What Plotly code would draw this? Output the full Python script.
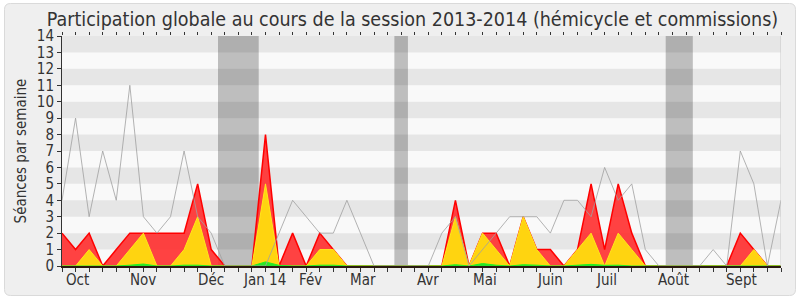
import plotly.graph_objects as go

weeks = list(range(54))
gray_total = [4, 9, 3, 7, 4, 11, 3, 2, 3, 7, 3, 2, 0, 0, 0, 0, 2, 4, 3, 2,
              2, 4, 2, 0, 0, 0, 0, 0, 2, 3, 0, 1, 2, 3, 3, 3, 2, 4, 4, 3,
              6, 4, 5, 1, 0, 0, 0, 0, 1, 0, 7, 5, 0, 4]
red_comm = [2, 1, 2, 0, 1, 2, 2, 2, 2, 2, 5, 1, 0, 0, 0, 8, 0, 2, 0, 2,
            1, 0, 0, 0, 0, 0, 0, 0, 0, 4, 0, 2, 2, 0, 3, 1, 1, 0, 1, 5,
            1, 5, 2, 0, 0, 0, 0, 0, 0, 0, 2, 1, 0, 0]
yellow_hemi = [0, 0, 1, 0, 0, 1, 2, 0, 0, 1, 3, 0, 0, 0, 0, 5, 0, 0, 0, 1,
               1, 0, 0, 0, 0, 0, 0, 0, 0, 3, 0, 2, 1, 0, 3, 1, 0, 0, 1, 2,
               0, 2, 1, 0, 0, 0, 0, 0, 0, 0, 0, 1, 0, 0]
green_int = [0, 0, 0, 0, 0, 0.05, 0.12, 0, 0, 0.05, 0.05, 0, 0, 0, 0, 0.25, 0.04, 0, 0, 0.05,
             0.05, 0, 0, 0, 0, 0, 0, 0, 0, 0.08, 0, 0.15, 0.05, 0, 0.08, 0.05, 0, 0, 0.03, 0.1,
             0.04, 0.05, 0, 0, 0, 0, 0, 0, 0, 0, 0, 0.04, 0, 0]
month_labels = ["Oct", "Nov", "Déc", "Jan 14", "Fév", "Mar", "Avr", "Mai", "Juin", "Juil", "Août", "Sept"]
month_pos = [1.13, 6.0, 10.95, 14.9, 18.3, 22.2, 27.0, 31.2, 36.0, 40.1, 45.1, 50.1]
vacations = [(11.5, 14.5), (24.5, 25.5), (44.5, 46.5)]

W, H = 800, 300
L, R, T, B = 62, 19, 36, 34
PW, PH = W - L - R, H - T - B
FONT = "DejaVu Sans Condensed, DejaVu Sans, sans-serif"
TXT = "#333333"


def px2paper(x, y):
    return (x - L) / PW, (H - B - y) / PH


def rounded_rect(x0, y0, x1, y1, r):
    def p(x, y):
        a, b = px2paper(x, y)
        return f"{a:.5f},{b:.5f}"
    return (f"M {p(x0 + r, y0)} L {p(x1 - r, y0)} Q {p(x1, y0)} {p(x1, y0 + r)} "
            f"L {p(x1, y1 - r)} Q {p(x1, y1)} {p(x1 - r, y1)} L {p(x0 + r, y1)} "
            f"Q {p(x0, y1)} {p(x0, y1 - r)} L {p(x0, y0 + r)} Q {p(x0, y0)} {p(x0 + r, y0)} Z")


fig = go.Figure()
fig.add_trace(go.Scatter(x=weeks, y=red_comm, mode="lines", fill="tozeroy",
                         line=dict(color="#FF0000", width=1.5), fillcolor="rgba(255,45,45,0.9)",
                         hoverinfo="skip", showlegend=False))
fig.add_trace(go.Scatter(x=weeks, y=yellow_hemi, mode="lines", fill="tozeroy",
                         line=dict(color="#FFE81A", width=1), fillcolor="rgb(255,212,16)",
                         hoverinfo="skip", showlegend=False))
fig.add_trace(go.Scatter(x=weeks, y=green_int, mode="lines", fill="tozeroy",
                         line=dict(color="#22EE22", width=1), fillcolor="rgb(40,230,40)",
                         hoverinfo="skip", showlegend=False))
fig.add_trace(go.Scatter(x=weeks, y=gray_total, mode="lines",
                         line=dict(color="rgba(160,160,160,0.8)", width=1),
                         hoverinfo="skip", showlegend=False))
fig.add_trace(go.Scatter(x=[0], y=[0], xaxis="x2", mode="markers", marker=dict(opacity=0),
                         hoverinfo="skip", showlegend=False))

shapes = []
shapes.append(dict(type="path", xref="paper", yref="paper", layer="below",
                   path=rounded_rect(4.5, 3.5, 795.5, 295.5, 6),
                   fillcolor="#EFEFEF", line=dict(color="#DADADA", width=1)))
shapes.append(dict(type="rect", xref="x", yref="y", x0=0, x1=53, y0=0, y1=14,
                   fillcolor="#F9F9F9", line=dict(width=0), layer="below"))
for a, b in vacations:
    shapes.append(dict(type="rect", xref="x", yref="y", x0=a, x1=b, y0=0, y1=14,
                       fillcolor="#BEBEBE", line=dict(width=0), layer="below"))
for k in range(1, 14, 2):
    shapes.append(dict(type="rect", xref="x", yref="y", x0=0, x1=53, y0=k, y1=k + 1,
                       fillcolor="rgba(0,0,0,0.075)", line=dict(width=0), layer="below"))
shapes.append(dict(type="line", xref="x", yref="y", x0=53, x1=53, y0=0, y1=14,
                   line=dict(color="#C8C8C8", width=1)))

annotations = []
for lab, pos in zip(month_labels, month_pos):
    annotations.append(dict(x=pos, y=-0.015, xref="x", yref="paper", text=lab,
                            showarrow=False, yanchor="top", xanchor="center",
                            font=dict(family=FONT, size=15, color=TXT)))

fig.update_layout(
    width=W, height=H,
    margin=dict(l=L, r=R, t=T, b=B, pad=0),
    paper_bgcolor="white",
    plot_bgcolor="#F9F9F9",
    title=dict(text="Participation globale au cours de la session 2013-2014 (hémicycle et commissions)",
               x=(412.5 - L) / PW, xref="paper", xanchor="center", y=0.935, yref="container",
               yanchor="middle", font=dict(family=FONT, size=19.5, color=TXT)),
    xaxis=dict(range=[0, 53], tickmode="array", tickvals=weeks, showticklabels=False,
               ticks="outside", ticklen=4, tickcolor="#333333", showgrid=False, zeroline=False,
               showline=True, linecolor="#2a1a10", linewidth=1.5, fixedrange=True),
    xaxis2=dict(range=[0, 53], overlaying="x", side="top", tickmode="array", tickvals=weeks,
                showticklabels=False, ticks="outside", ticklen=3, tickcolor="#333333",
                showgrid=False, zeroline=False, showline=False),
    yaxis=dict(range=[0, 14], tickmode="array", tickvals=list(range(15)),
               ticks="outside", ticklen=4, tickcolor="#333333", showgrid=False, zeroline=False,
               showline=True, linecolor="#333333", linewidth=1,
               tickfont=dict(family=FONT, size=15, color=TXT),
               title=dict(text="Séances par semaine", standoff=6,
                          font=dict(family=FONT, size=15, color=TXT))),
    shapes=shapes,
    annotations=annotations,
)

fig.write_html("out.html")
